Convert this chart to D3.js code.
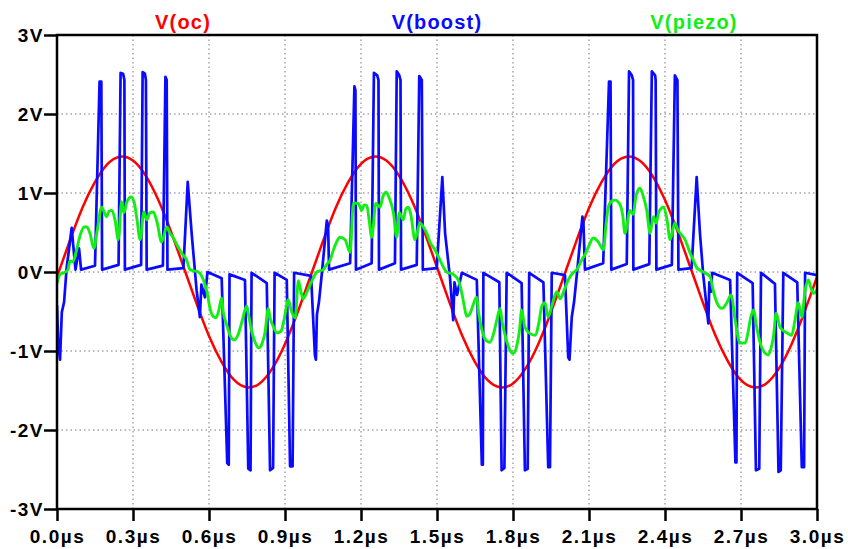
<!DOCTYPE html>
<meta charset="utf-8">
<style>
body { margin: 0; background: #fff; }
svg { display: block; }
.axis text { font: bold 19px "Liberation Sans", Arial, sans-serif; letter-spacing: 1.5px; fill: #000; }
.axis line { stroke: #000; stroke-width: 2.5; }
.axis path { display: none; }
.grid line { stroke: #777; stroke-width: 1; stroke-dasharray: 1.5,3; }
.title { font: bold 20px "Liberation Sans", Arial, sans-serif; letter-spacing: 1.2px; }
.trace { fill: none; stroke-linejoin: round; }
</style>
<svg width="848" height="549"></svg>
<script src="https://d3js.org/d3.v7.min.js"></script>
<script>

// axis ticks
var xTicks = [0, 0.3, 0.6, 0.9, 1.2, 1.5, 1.8, 2.1, 2.4, 2.7, 3.0];
var xTickLabels = ["0.0µs", "0.3µs", "0.6µs", "0.9µs", "1.2µs", "1.5µs", "1.8µs", "2.1µs", "2.4µs", "2.7µs", "3.0µs"];
var yTicks = [-3, -2, -1, 0, 1, 2, 3];
var yTickLabels = ["-3V", "-2V", "-1V", "0V", "1V", "2V", "3V"];

var traceNames = ["V(oc)", "V(boost)", "V(piezo)"];
var traceColors = ["#ff0000", "#0a0aff", "#11ee11"];

// V(oc), read every 0.05us
var ocTime = [0, 0.05, 0.1, 0.15, 0.2, 0.25, 0.3, 0.35, 0.4, 0.45, 0.5, 0.55, 0.6, 0.65, 0.7, 0.75, 0.8, 0.85, 0.9, 0.95,
  1.0, 1.05, 1.1, 1.15, 1.2, 1.25, 1.3, 1.35, 1.4, 1.45, 1.5, 1.55, 1.6, 1.65, 1.7, 1.75, 1.8, 1.85, 1.9, 1.95,
  2.0, 2.05, 2.1, 2.15, 2.2, 2.25, 2.3, 2.35, 2.4, 2.45, 2.5, 2.55, 2.6, 2.65, 2.7, 2.75, 2.8, 2.85, 2.9, 2.95, 3.0];
var ocVolt = [-0.06, 0.39, 0.81, 1.14, 1.37, 1.46, 1.41, 1.22, 0.91, 0.51, 0.06, -0.39, -0.81, -1.14, -1.37, -1.46, -1.41, -1.22, -0.91, -0.51,
  -0.06, 0.39, 0.81, 1.14, 1.37, 1.46, 1.41, 1.22, 0.91, 0.51, 0.06, -0.39, -0.81, -1.14, -1.37, -1.46, -1.41, -1.22, -0.91, -0.51,
  -0.06, 0.39, 0.81, 1.14, 1.37, 1.46, 1.41, 1.22, 0.91, 0.51, 0.06, -0.39, -0.81, -1.14, -1.37, -1.46, -1.41, -1.22, -0.91, -0.51, -0.06];

// V(boost) [us, V], one array per period
var boostP1 = [[0,-0.42],[0.005,-0.92],[0.012,-1.11],[0.019,-0.51],[0.028,-0.38],[0.038,0.05],[0.058,0.56],[0.064,0.34],[0.073,0.03],[0.087,0.30],[0.095,0.03],[0.150,0.08],[0.168,2.41],[0.175,2.41],[0.178,0.03],[0.243,0.09],[0.251,2.52],[0.261,2.51],[0.266,2.43],[0.268,0.03],[0.332,0.09],[0.338,2.53],[0.347,2.51],[0.351,2.43],[0.354,0.03],[0.418,0.08],[0.428,2.47],[0.433,2.43],[0.436,0.03],[0.499,0.05],[0.516,1.14],[0.532,0.47],[0.551,-0.23],[0.564,-0.57],[0.570,-0.16],[0.584,-0.32],[0.594,0.0],[0.650,-0.08],[0.672,-2.42],[0.678,-2.44],[0.681,-0.03],[0.742,-0.10],[0.755,-2.49],[0.764,-2.51],[0.768,-0.01],[0.828,-0.14],[0.841,-2.51],[0.853,-2.48],[0.859,-0.01],[0.907,-0.10],[0.920,-2.46],[0.930,-2.46],[0.936,-0.01],[1.003,-0.05]];
var boostP2 = [[1.018,-1.05],[1.022,-1.11],[1.026,-0.54],[1.034,-0.38],[1.046,0.0],[1.065,0.65],[1.070,0.59],[1.074,0.03],[1.157,0.11],[1.174,2.35],[1.178,2.30],[1.180,0.03],[1.242,0.11],[1.251,2.52],[1.264,2.49],[1.269,2.43],[1.271,0.03],[1.334,0.11],[1.341,2.54],[1.351,2.49],[1.356,2.43],[1.358,0.03],[1.420,0.09],[1.430,2.48],[1.440,2.43],[1.444,0.03],[1.499,0.05],[1.521,1.20],[1.532,0.49],[1.551,-0.06],[1.564,-0.61],[1.569,-0.13],[1.579,-0.29],[1.598,-0.01],[1.657,-0.10],[1.677,-2.44],[1.681,-2.44],[1.683,-0.01],[1.746,-0.13],[1.755,-2.51],[1.766,-2.48],[1.775,-0.01],[1.834,-0.14],[1.847,-2.51],[1.858,-2.49],[1.864,-0.01],[1.920,-0.13],[1.939,-2.47],[1.946,-2.47],[1.953,-0.01],[2.005,-0.04]];
var boostP3 = [[2.018,-1.08],[2.023,-1.11],[2.032,-0.57],[2.041,-0.38],[2.053,0.0],[2.074,0.70],[2.078,0.63],[2.084,0.03],[2.156,0.11],[2.179,2.41],[2.185,2.41],[2.188,0.03],[2.249,0.10],[2.258,2.54],[2.269,2.49],[2.274,2.43],[2.275,0.03],[2.338,0.10],[2.348,2.54],[2.361,2.49],[2.363,2.43],[2.366,0.03],[2.427,0.09],[2.439,2.49],[2.449,2.43],[2.453,0.03],[2.505,0.05],[2.525,1.20],[2.538,0.49],[2.551,-0.04],[2.571,-0.65],[2.575,-0.13],[2.582,-0.25],[2.586,-0.01],[2.657,-0.10],[2.678,-2.41],[2.682,-2.41],[2.685,-0.01],[2.746,-0.14],[2.759,-2.51],[2.772,-2.49],[2.779,-0.01],[2.834,-0.15],[2.848,-2.53],[2.857,-2.51],[2.867,-0.01],[2.922,-0.13],[2.940,-2.47],[2.949,-2.47],[2.953,-0.01],[3.0,-0.04]];

// V(piezo) [us, V]
var piezoP1 = [[0,-0.14],[0.012,-0.03],[0.028,-0.01],[0.043,0.03],[0.051,0.14],[0.063,0.13],[0.075,0.25],[0.091,0.46],[0.107,0.57],[0.118,0.57],[0.130,0.49],[0.146,0.30],[0.158,0.51],[0.176,0.82],[0.196,0.70],[0.205,0.77],[0.217,0.78],[0.229,0.66],[0.242,0.41],[0.255,0.89],[0.264,0.75],[0.276,0.89],[0.292,0.95],[0.304,0.89],[0.316,0.66],[0.328,0.41],[0.343,0.76],[0.354,0.66],[0.367,0.75],[0.380,0.76],[0.395,0.63],[0.413,0.38],[0.433,0.57],[0.446,0.49],[0.458,0.44],[0.474,0.34],[0.492,0.24],[0.512,0.15],[0.525,0.03],[0.558,0.0],[0.578,-0.10],[0.592,-0.25],[0.604,-0.46],[0.616,-0.56],[0.628,-0.58],[0.639,-0.48],[0.650,-0.33],[0.655,-0.48],[0.670,-0.67],[0.683,-0.80],[0.699,-0.86],[0.714,-0.80],[0.730,-0.63],[0.749,-0.43],[0.756,-0.54],[0.766,-0.71],[0.782,-0.89],[0.797,-0.96],[0.809,-0.91],[0.821,-0.77],[0.834,-0.46],[0.841,-0.58],[0.853,-0.68],[0.868,-0.77],[0.884,-0.75],[0.896,-0.61],[0.913,-0.35],[0.924,-0.48],[0.940,-0.58],[0.953,-0.11],[0.963,-0.25],[0.972,-0.34],[0.987,-0.25],[0.999,-0.16]];
var piezoP2 = [[1.011,-0.08],[1.025,0.0],[1.051,0.03],[1.065,0.10],[1.078,0.15],[1.091,0.28],[1.105,0.39],[1.117,0.44],[1.137,0.41],[1.157,0.25],[1.170,0.87],[1.189,0.87],[1.203,0.78],[1.212,0.85],[1.223,0.84],[1.232,0.66],[1.242,0.44],[1.259,0.87],[1.275,0.82],[1.287,0.96],[1.299,1.01],[1.311,0.94],[1.328,0.75],[1.341,0.44],[1.351,0.75],[1.367,0.66],[1.377,0.80],[1.387,0.82],[1.397,0.72],[1.413,0.41],[1.433,0.62],[1.446,0.57],[1.461,0.48],[1.472,0.38],[1.492,0.28],[1.512,0.15],[1.538,0.0],[1.564,-0.03],[1.584,-0.10],[1.598,-0.27],[1.607,-0.42],[1.617,-0.56],[1.630,-0.53],[1.642,-0.42],[1.657,-0.32],[1.664,-0.51],[1.677,-0.73],[1.690,-0.85],[1.709,-0.89],[1.725,-0.76],[1.736,-0.61],[1.749,-0.46],[1.757,-0.63],[1.772,-0.84],[1.788,-0.99],[1.801,-1.03],[1.816,-0.92],[1.826,-0.73],[1.834,-0.48],[1.847,-0.70],[1.867,-0.78],[1.887,-0.80],[1.903,-0.63],[1.913,-0.44],[1.926,-0.39],[1.939,-0.57],[1.954,-0.42],[1.973,-0.25],[1.986,-0.34],[2.002,-0.23],[2.018,-0.10]];
var piezoP3 = [[2.037,-0.01],[2.052,0.03],[2.071,0.15],[2.084,0.22],[2.098,0.32],[2.117,0.43],[2.137,0.38],[2.157,0.28],[2.167,0.59],[2.176,0.82],[2.191,0.90],[2.203,0.91],[2.223,0.85],[2.233,0.72],[2.242,0.49],[2.262,0.78],[2.274,0.73],[2.286,0.97],[2.301,1.06],[2.313,0.97],[2.328,0.78],[2.341,0.49],[2.354,0.70],[2.365,0.62],[2.376,0.76],[2.393,0.82],[2.408,0.66],[2.420,0.41],[2.439,0.62],[2.451,0.53],[2.463,0.48],[2.479,0.41],[2.499,0.24],[2.512,0.15],[2.526,0.05],[2.552,0.0],[2.578,-0.06],[2.590,-0.23],[2.605,-0.39],[2.625,-0.46],[2.644,-0.39],[2.661,-0.29],[2.677,-0.61],[2.696,-0.90],[2.716,-0.90],[2.728,-0.76],[2.736,-0.61],[2.749,-0.48],[2.762,-0.70],[2.775,-0.89],[2.791,-1.01],[2.808,-1.05],[2.819,-0.96],[2.828,-0.82],[2.839,-0.52],[2.854,-0.70],[2.881,-0.77],[2.900,-0.80],[2.913,-0.61],[2.926,-0.39],[2.940,-0.57],[2.953,-0.23],[2.966,-0.10],[2.975,-0.19],[2.986,-0.27],[3.0,-0.23]];

var svg = d3.select("svg"),
    margin = {top: 35, right: 31, bottom: 40, left: 57},
    width = +svg.attr("width") - margin.left - margin.right,
    height = +svg.attr("height") - margin.top - margin.bottom,
    g = svg.append("g").attr("transform", "translate(" + margin.left + "," + margin.top + ")");

var x = d3.scaleLinear().domain([0, 3]).range([0, width]);
var y = d3.scaleLinear().domain([-3, 3]).range([height, 0]);

// dotted grid
g.append("g").attr("class", "grid")
  .selectAll("line")
  .data(xTicks.slice(1, -1))
  .enter().append("line")
    .attr("x1", function(d) { return x(d); })
    .attr("x2", function(d) { return x(d); })
    .attr("y1", 0)
    .attr("y2", height);

g.append("g").attr("class", "grid")
  .selectAll("line")
  .data(yTicks.slice(1, -1))
  .enter().append("line")
    .attr("y1", function(d) { return y(d); })
    .attr("y2", function(d) { return y(d); })
    .attr("x1", 0)
    .attr("x2", width);

g.append("defs").append("clipPath").attr("id", "plot")
  .append("rect").attr("width", width).attr("height", height);

var line = d3.line()
    .x(function(d) { return x(d[0]); })
    .y(function(d) { return y(d[1]); });

var traces = g.append("g").attr("clip-path", "url(#plot)");

traces.append("path")
    .attr("class", "trace")
    .attr("stroke", traceColors[0])
    .attr("stroke-width", 2.5)
    .attr("d", line.curve(d3.curveNatural)(ocTime.map(function(t, i) { return [t, ocVolt[i]]; })));

traces.append("path")
    .attr("class", "trace")
    .attr("stroke", traceColors[1])
    .attr("stroke-width", 2.7)
    .attr("d", line.curve(d3.curveLinear)(boostP1.concat(boostP2, boostP3)));

traces.append("path")
    .attr("class", "trace")
    .attr("stroke", traceColors[2])
    .attr("stroke-width", 2.9)
    .attr("d", line.curve(d3.curveMonotoneX)(piezoP1.concat(piezoP2, piezoP3)));

// frame
g.append("rect")
    .attr("width", width)
    .attr("height", height)
    .attr("fill", "none")
    .attr("stroke", "#000")
    .attr("stroke-width", 2.5);

g.append("g")
    .attr("class", "axis")
    .attr("transform", "translate(0," + height + ")")
    .call(d3.axisBottom(x).tickValues(xTicks).tickSize(12).tickPadding(9)
      .tickFormat(function(d, i) { return xTickLabels[i]; }))
    .selectAll("text").attr("dy", "0.71em");

g.append("g")
    .attr("class", "axis")
    .call(d3.axisLeft(y).tickValues(yTicks).tickSize(13).tickPadding(0)
      .tickFormat(function(d, i) { return yTickLabels[i]; }));

// trace names above the plot
var titleX = [183, 437, 694];
svg.selectAll(".title")
  .data(traceNames)
  .enter().append("text")
    .attr("class", "title")
    .attr("x", function(d, i) { return titleX[i]; })
    .attr("y", 29)
    .attr("text-anchor", "middle")
    .attr("fill", function(d, i) { return traceColors[i]; })
    .text(function(d) { return d; });

</script>
